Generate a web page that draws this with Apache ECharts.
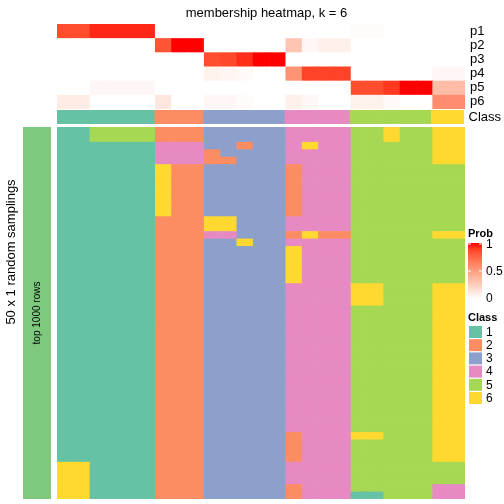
<!DOCTYPE html>
<html>
<head>
<meta charset="utf-8">
<script src="https://cdn.jsdelivr.net/npm/echarts@6/dist/echarts.min.js"></script>
<style>html,body{margin:0;padding:0;background:#fff}#c{width:504px;height:504px}</style>
</head>
<body>
<div id="c"></div>
<script>
// ---------- data ----------
const titleText = 'membership heatmap, k = 6';
const probLabels = ['p1', 'p2', 'p3', 'p4', 'p5', 'p6'];
const classNames = ['1', '2', '3', '4', '5', '6'];
const classColors = ['#66c2a5', '#fc8d62', '#8da0cb', '#e78ac3', '#a6d854', '#ffd92f'];
const probColors = ['#ffffff', '#ffe7df', '#ffcfbf', '#ffb7a0', '#ff9e81', '#ff8463', '#ff6746', '#ff4628', '#ff0000'];
const probTicks = ['1', '0.5', '0'];

// 25 columns (samples grouped by class)
const p1 = [0.85,0.85,0.93,0.93,0.93,0.93,0,0,0,0,0,0,0,0,0,0,0,0,0.02,0.02,0,0,0,0,0];
const p2 = [0,0,0,0,0,0,0.82,1,1,0,0,0,0,0,0.3,0.04,0.08,0.08,0,0,0,0,0,0,0];
const p3 = [0,0,0,0,0,0,0,0,0,0.85,0.87,0.92,1,1,0,0,0,0,0,0,0,0,0,0,0];
const p4 = [0,0,0,0,0,0,0,0,0,0.07,0.05,0.03,0,0,0.55,0.88,0.88,0.88,0,0,0,0,0,0.04,0.04];
const p5 = [0,0,0.04,0.04,0.04,0.04,0,0,0,0,0,0,0,0,0,0,0,0,0.85,0.85,0.9,1,1,0.35,0.35];
const p6 = [0.1,0.1,0,0,0,0,0.13,0,0,0.04,0.04,0.02,0,0,0.08,0.04,0,0,0.07,0.07,0.03,0,0,0.58,0.58];
const consensusClass = [1,1,1,1,1,1,2,2,2,3,3,3,3,3,4,4,4,4,5,5,5,5,5,6,6];

// 50 random samplings, each row = class of the 25 columns
const samplingRows = [
  '1155552223333344445565566',
  '1155552223333344445565566',
  '1111114443323346445555566',
  '1111114442333344445555566',
  '1111114442233344445555566',
  '1111116223333324445555555',
  '1111116223333324445555555',
  '1111116223333324445555555',
  '1111116223333324445555555',
  '1111116223333324445555555',
  '1111116223333324445555555',
  '1111116223333324445555555',
  '1111112226633344445555555',
  '1111112226633344445555555',
  '1111112224433326225555566',
  '1111112223363344445555555',
  '1111112223333364445555555',
  '1111112223333364445555555',
  '1111112223333364445555555',
  '1111112223333364445555555',
  '1111112223333364445555555',
  '1111112223333344446655566',
  '1111112223333344446655566',
  '1111112223333344446655566',
  '1111112223333344445555566',
  '1111112223333344445555566',
  '1111112223333344445555566',
  '1111112223333344445555566',
  '1111112223333344445555566',
  '1111112223333344445555566',
  '1111112223333344445555566',
  '1111112223333344445555566',
  '1111112223333344445555566',
  '1111112223333344445555566',
  '1111112223333344445555566',
  '1111112223333344445555566',
  '1111112223333344445555566',
  '1111112223333344445555566',
  '1111112223333344445555566',
  '1111112223333344445555566',
  '1111112223333344445555566',
  '1111112223333324446655566',
  '1111112223333324445555566',
  '1111112223333324445555566',
  '1111112223333324445555566',
  '6611112223333344445555555',
  '6611112223333344445555555',
  '6611112223333344445555555',
  '6611112223333324445555544',
  '6611112223333324441155544'
];
const leftBarLabel = 'top 1000 rows';
const leftBarColor = '#7fc97f';
const rowTitle = '50 x 1 random samplings';

// ---------- build ----------
const FONT = 'Liberation Sans, Arial, sans-serif';
const cols = consensusClass.map((_, i) => 'c' + i);
const probRows = [p1, p2, p3, p4, p5, p6];
const probData = [];
probRows.forEach((row, r) => row.forEach((v, c) => probData.push([c, r, v])));
const classData = consensusClass.map((v, c) => [c, 0, v]);
const rowIds = samplingRows.map((_, i) => 'r' + i);
const mainData = [];
samplingRows.forEach((s, r) => { for (let c = 0; c < s.length; c++) mainData.push([c, r, +s[c]]); });

const L = 57, W = 408;
const hiddenCat = (data, gridIndex) => ({
  type: 'category', data, gridIndex, show: false,
  axisLine: { show: false }, axisTick: { show: false }, splitLine: { show: false }
});

// cell renderer: slight overlap to avoid anti-aliasing seams between cells
function cellRenderer(params, api) {
  const p = api.coord([api.value(0), api.value(1)]);
  const s = api.size([1, 1]);
  return {
    type: 'rect',
    shape: { x: p[0] - s[0] / 2, y: p[1] - s[1] / 2, width: s[0] + 0.7, height: s[1] + 0.7 },
    style: { fill: api.visual('color') }
  };
}
const cellSeries = (xi, yi, data) => ({
  type: 'custom', xAxisIndex: xi, yAxisIndex: yi, data, renderItem: cellRenderer,
  clip: true, encode: { x: 0, y: 1 }, emphasis: { disabled: true }, silent: true
});

// legends
const legendGraphics = [
  { type: 'text', x: 468, y: 228, style: { text: 'Prob', font: 'bold 11px ' + FONT, fill: '#000' } },
  { type: 'rect', shape: { x: 468, y: 243, width: 14, height: 56 },
    style: { fill: { type: 'linear', x: 0, y: 0, x2: 0, y2: 1,
      colorStops: probColors.slice().reverse().map((c, i, a) => ({ offset: i / (a.length - 1), color: c })) } } },
  { type: 'line', shape: { x1: 468, y1: 271, x2: 471, y2: 271 }, style: { stroke: '#fff', lineWidth: 1 } },
  { type: 'line', shape: { x1: 479, y1: 271, x2: 482, y2: 271 }, style: { stroke: '#fff', lineWidth: 1 } },
  { type: 'line', shape: { x1: 468, y1: 244, x2: 471, y2: 244 }, style: { stroke: '#fff', lineWidth: 1 } },
  { type: 'line', shape: { x1: 479, y1: 244, x2: 482, y2: 244 }, style: { stroke: '#fff', lineWidth: 1 } },
  { type: 'text', x: 486, y: 245, style: { text: probTicks[0], font: '12px ' + FONT, fill: '#000', textVerticalAlign: 'middle' } },
  { type: 'text', x: 486, y: 272, style: { text: probTicks[1], font: '12px ' + FONT, fill: '#000', textVerticalAlign: 'middle' } },
  { type: 'text', x: 486, y: 299, style: { text: probTicks[2], font: '12px ' + FONT, fill: '#000', textVerticalAlign: 'middle' } },
  { type: 'text', x: 468, y: 312, style: { text: 'Class', font: 'bold 11px ' + FONT, fill: '#000' } }
];
classNames.forEach((n, i) => {
  const y0 = 326 + i * 13.2;
  legendGraphics.push({ type: 'rect', shape: { x: 469, y: y0, width: 13, height: 12 },
    style: { fill: classColors[i] } });
  legendGraphics.push({ type: 'text', x: 486, y: y0 + 6.5,
    style: { text: n, font: '12px ' + FONT, fill: '#000', textVerticalAlign: 'middle' } });
});

const chart = echarts.init(document.getElementById('c'), null, { renderer: 'canvas' });
chart.setOption({
  animation: false,
  backgroundColor: '#ffffff',
  textStyle: { fontFamily: FONT },
  title: {
    text: titleText, left: 261.5, textAlign: 'center', top: 2,
    textStyle: { fontSize: 13, fontWeight: 'normal', color: '#000', fontFamily: FONT }
  },
  grid: [
    { left: L, top: 24, width: W, height: 85 },
    { left: L, top: 110, width: W, height: 14 },
    { left: L, top: 127, width: W, height: 372 },
    { left: 23, top: 127, width: 28, height: 372 }
  ],
  xAxis: [
    hiddenCat(cols, 0), hiddenCat(cols, 1), hiddenCat(cols, 2),
    hiddenCat([leftBarLabel], 3)
  ],
  yAxis: [
    { type: 'category', data: probLabels, gridIndex: 0, inverse: true, position: 'right',
      axisLine: { show: false }, axisTick: { show: false },
      axisLabel: { interval: 0, margin: 5, fontSize: 13, color: '#000', fontFamily: FONT } },
    { type: 'category', data: ['Class'], gridIndex: 1, position: 'right',
      axisLine: { show: false }, axisTick: { show: false },
      axisLabel: { interval: 0, margin: 5, fontSize: 13, color: '#000', fontFamily: FONT } },
    Object.assign(hiddenCat(rowIds, 2), { inverse: true }),
    { type: 'value', gridIndex: 3, min: 0, max: 1, show: false }
  ],
  visualMap: [
    { type: 'continuous', min: 0, max: 1, seriesIndex: 0, show: false, dimension: 2,
      inRange: { color: probColors } },
    { type: 'piecewise', seriesIndex: [1, 2], dimension: 2, show: false,
      pieces: classNames.map((n, i) => ({ value: i + 1, label: n, color: classColors[i] })) }
  ],
  series: [
    cellSeries(0, 0, probData),
    cellSeries(1, 1, classData),
    cellSeries(2, 2, mainData),
    { type: 'bar', xAxisIndex: 3, yAxisIndex: 3, data: [1], barWidth: '100%',
      itemStyle: { color: leftBarColor }, silent: true,
      label: { show: true, position: 'inside', rotate: 90, formatter: leftBarLabel,
        fontSize: 10, color: '#000', fontFamily: FONT } }
  ],
  graphic: [
    { type: 'text', x: 11, y: 252, rotation: Math.PI / 2,
      style: { text: rowTitle, font: '13px ' + FONT, fill: '#000',
        textAlign: 'center', textVerticalAlign: 'middle' } }
  ].concat(legendGraphics)
});
</script>
</body>
</html>
